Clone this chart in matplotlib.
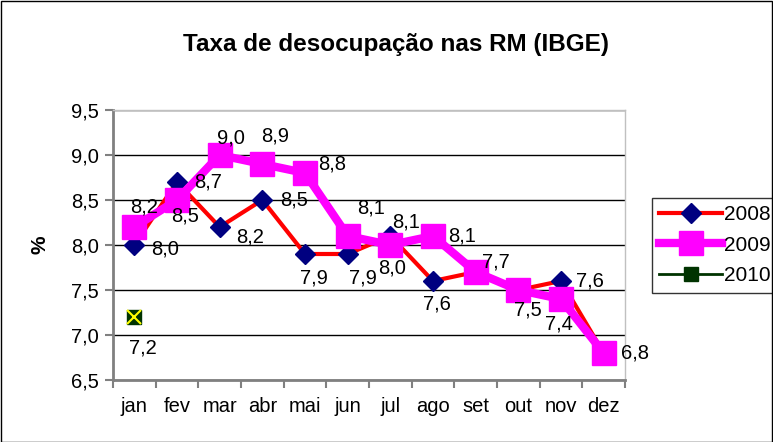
import matplotlib
matplotlib.use("Agg")
import matplotlib.pyplot as plt
from matplotlib.patches import Rectangle

months = ["jan", "fev", "mar", "abr", "mai", "jun", "jul", "ago", "set", "out", "nov", "dez"]
s2008 = [8.0, 8.7, 8.2, 8.5, 7.9, 7.9, 8.1, 7.6, 7.7, 7.5, 7.6, 6.8]
s2009 = [8.2, 8.5, 9.0, 8.9, 8.8, 8.1, 8.0, 8.1, 7.7, 7.5, 7.4, 6.8]
s2010 = [7.2]
yticks = [6.5, 7.0, 7.5, 8.0, 8.5, 9.0, 9.5]

plt.rcParams['font.family'] = ['Liberation Sans', 'DejaVu Sans']

fig = plt.figure(figsize=(7.73, 4.42), dpi=100)
W, H = 773, 442
ax = fig.add_axes([113 / W, 1 - 380 / H, (625 - 113) / W, (380 - 110) / H])

x = list(range(len(months)))
ax.plot(x, s2008, color="#ff0000", lw=3, marker="D", ms=10, mfc="#000080", mec="#000080", zorder=3, label="2008")
ax.plot(x, s2009, color="#ff00ff", lw=6, marker="s", ms=17, mfc="#ff00ff", mec="#ff00ff", zorder=4, label="2009")
ax.plot(x[:1], s2010, color="#003300", lw=2, marker="s", ms=10, mfc="#003300", mec="#003300", zorder=5, label="2010")
ax.plot(x[:1], s2010, ls="none", marker="x", ms=10, mew=1.5, color="#ffff00", zorder=6)

def fmt(v):
    return f"{v:.1f}".replace(".", ",")

fs = 14.5
P = 0.72  # px -> points
# label offsets in pixels (dx, dy up), ha, va
off08 = [(17, -4, "left", "center"), (17, 0, "left", "center"), (16, -10, "left", "center"),
         (18, 0, "left", "center"), (9, -15, "center", "top"), (15, -15, "center", "top"),
         (2, 4, "left", "bottom"), (4, -13, "center", "top"), None, None,
         (15, 0, "left", "center"), None]
off09 = [(10, 11, "center", "bottom"), (8, -7, "center", "top"), (-3, 7, "left", "bottom"),
         (-1, 18, "left", "bottom"), (13, 9, "left", "center"), (23, 18, "center", "bottom"),
         (2, -14, "center", "top"), (15, 0, "left", "center"), (6, 1, "left", "bottom"),
         (10, -10, "center", "top"), (-2, -15, "center", "top"), (17, 0, "left", "center")]
for i, v in enumerate(s2008):
    o = off08[i]
    if o is None:
        continue
    ax.annotate(fmt(v), (i, v), xytext=(o[0] * P, o[1] * P), textcoords="offset points",
                ha=o[2], va=o[3], fontsize=fs, zorder=7)
for i, v in enumerate(s2009):
    o = off09[i]
    ax.annotate(fmt(v), (i, v), xytext=(o[0] * P, o[1] * P), textcoords="offset points",
                ha=o[2], va=o[3], fontsize=fs, zorder=7)
ax.annotate(fmt(s2010[0]), (0, s2010[0]), xytext=(9 * P, -21 * P), textcoords="offset points",
            ha="center", va="top", fontsize=fs, zorder=7)

ax.set_xlim(-0.5, 11.5)
ax.set_ylim(6.5, 9.5)
ax.set_yticks(yticks)
ax.set_yticklabels([fmt(v) for v in yticks], fontsize=fs)
ax.set_xticks(x)
ax.set_xticklabels(months, fontsize=fs)
ax.set_xticks([i - 0.5 for i in range(len(months) + 1)], minor=True)
ax.yaxis.grid(True, color="black", lw=1)
ax.set_axisbelow(True)
ax.tick_params(axis="y", length=6, color="#808080", width=1.5, direction="out", pad=4)
ax.tick_params(axis="x", which="major", length=0, pad=12)
ax.tick_params(axis="x", which="minor", length=6, color="#808080", width=1.5, direction="out")
for s in ["top", "right"]:
    ax.spines[s].set_color("#c0c0c0")
    ax.spines[s].set_linewidth(1)
for s in ["left", "bottom"]:
    ax.spines[s].set_color("#808080")
    ax.spines[s].set_linewidth(2)
ax.set_ylabel("%", fontsize=15, fontweight="bold", labelpad=16)

fig.text(396 / W, 1 - 45 / H, "Taxa de desocupação nas RM (IBGE)", ha="center", va="center",
         fontsize=17.5, fontweight="bold")

leg = ax.legend(loc="upper left", bbox_to_anchor=(652 / W, 1 - 198 / H), bbox_transform=fig.transFigure,
                fontsize=15, frameon=True, fancybox=False, edgecolor="black",
                handlelength=3.0, borderpad=0.35, labelspacing=0.55, handletextpad=0.1, borderaxespad=0)
leg.get_frame().set_linewidth(1)

fig.patches.append(Rectangle((0.5 / W, 0.5 / H), 1 - 1.5 / W, 1 - 1.5 / H, transform=fig.transFigure,
                             fill=False, edgecolor="black", lw=1))
fig.savefig("out.png", dpi=100)
